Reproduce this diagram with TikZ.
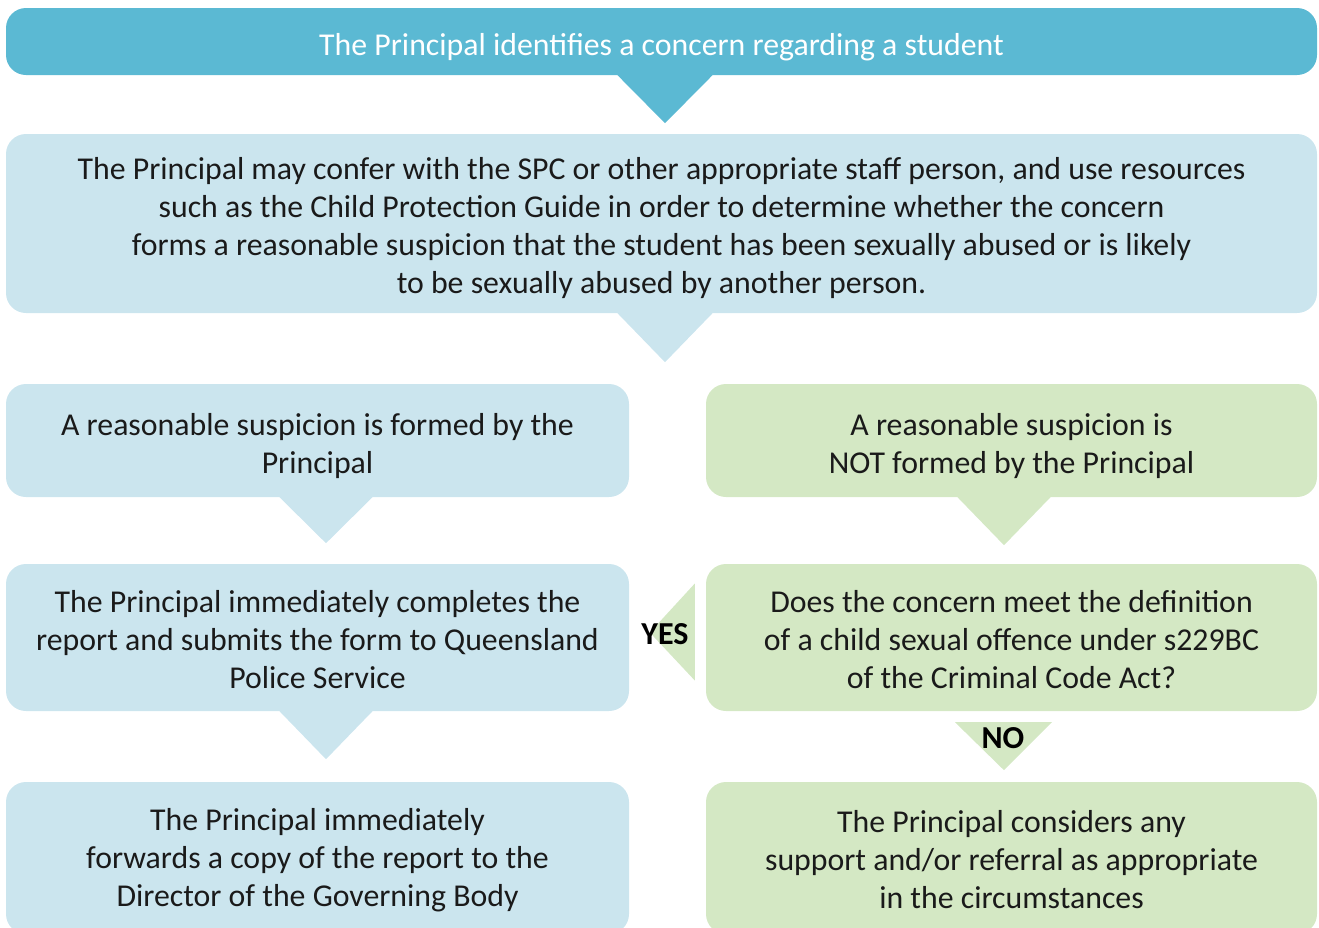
\documentclass[tikz,border=0pt]{standalone}
\usepackage{fontspec}
\setmainfont{Carlito}
\usetikzlibrary{calc}
\definecolor{tealc}{HTML}{5BB9D3}
\definecolor{lblue}{HTML}{CBE5EE}
\definecolor{lgreen}{HTML}{D4E8C4}
\definecolor{txt}{HTML}{1A1A1A}
\newcommand{\tp}[1]{\rule{0pt}{#1pt}}
\begin{document}
\begin{tikzpicture}[x=1pt,y=-1pt,
  box/.style={rounded corners=20pt, inner sep=0pt, align=center, text=txt,
    font=\fontsize{31.8}{38}\selectfont},
  bluebox/.style={box, fill=lblue},
  greenbox/.style={box, fill=lgreen},
  topbox/.style={box, fill=tealc, text=white},
  lbl/.style={inner sep=0pt, text=black, font=\fontsize{32}{34}\selectfont\bfseries}]
\useasboundingbox (0,0) rectangle (1319,927);
\clip (0,0) rectangle (1319,927);

\node[topbox, minimum width=1311pt, minimum height=67pt] (top) at (661.5,41.5)
  {\tp{34}The Principal identifies a concern regarding a student};
\node[bluebox, minimum width=1311pt, minimum height=179pt] (conf) at (661.5,223.5)
  {\tp{31}The Principal may confer with the SPC or other appropriate staff person, and use resources\\
   such as the Child Protection Guide in order to determine whether the concern\\
   forms a reasonable suspicion that the student has been sexually abused or is likely\\
   to be sexually abused by another person.};
\node[bluebox, minimum width=623pt, minimum height=113pt] (yes3) at (317.5,440.5)
  {\tp{34}A reasonable suspicion is formed by the\\Principal};
\node[greenbox, minimum width=611pt, minimum height=113pt] (no3) at (1011.5,440.5)
  {\tp{34}A reasonable suspicion is\\NOT formed by the Principal};
\node[bluebox, minimum width=623pt, minimum height=147pt] (rep) at (317.5,637.5)
  {\tp{26}The Principal immediately completes the\\report and submits the form to Queensland\\Police Service};
\node[greenbox, minimum width=611pt, minimum height=147pt] (def) at (1011.5,637.5)
  {\tp{26}Does the concern meet the definition\\of a child sexual offence under s229BC\\of the Criminal Code Act?};
\node[bluebox, minimum width=623pt, minimum height=152pt] (fwd) at (317.5,858)
  {\tp{26}The Principal immediately\\forwards a copy of the report to the\\Director of the Governing Body};
\node[greenbox, minimum width=611pt, minimum height=152pt] (sup) at (1011.5,858)
  {\tp{26}The Principal considers any\\support and/or referral as appropriate\\in the circumstances};

% arrow-shaped connectors
\fill[tealc] ($(top.south)+(-44.5,-0.5)$) -- ($(top.south)+(51.5,-0.5)$) -- ($(top.south)+(3.5,48)$) -- cycle;
\fill[lblue] ($(conf.south)+(-44.5,-0.5)$) -- ($(conf.south)+(51.5,-0.5)$) -- ($(conf.south)+(3.5,49)$) -- cycle;
\fill[lblue] ($(yes3.south)+(-38.5,-0.5)$) -- ($(yes3.south)+(55.5,-0.5)$) -- ($(yes3.south)+(8.5,46)$) -- cycle;
\fill[lgreen] ($(no3.south)+(-54.5,-0.5)$) -- ($(no3.south)+(39.5,-0.5)$) -- ($(no3.south)+(-7.5,48)$) -- cycle;
\fill[lblue] ($(rep.south)+(-38.5,-0.5)$) -- ($(rep.south)+(55.5,-0.5)$) -- ($(rep.south)+(8.5,48)$) -- cycle;
\fill[lgreen] ($(def.west)+(-11,-54)$) -- ($(def.west)+(-11,43)$) -- ($(def.west)+(-56,-5)$) -- cycle;
\fill[lgreen] ($(def.south)+(-56.5,11)$) -- ($(def.south)+(40.5,11)$) -- ($(def.south)+(-7.5,59)$) -- cycle;

\node[lbl] (yes) at (665,634) {YES};
\node[lbl] (no) at (1003,738) {NO};
\end{tikzpicture}
\end{document}
